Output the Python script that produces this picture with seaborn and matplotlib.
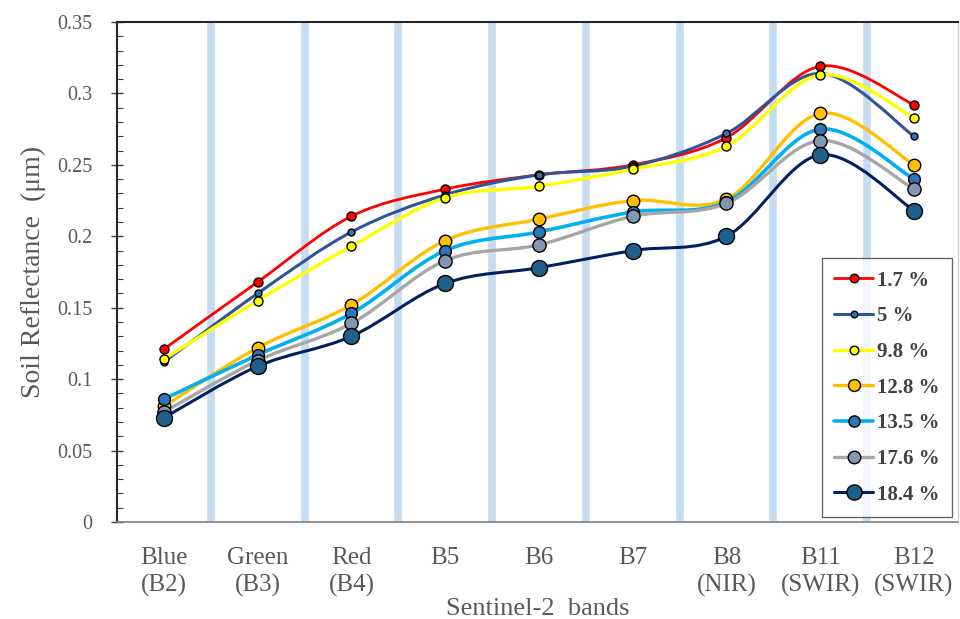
import numpy as np
import pandas as pd
import matplotlib
matplotlib.use("Agg")
import matplotlib.pyplot as plt
from matplotlib.path import Path
from matplotlib.patches import PathPatch
from matplotlib.lines import Line2D
from matplotlib.ticker import MultipleLocator
import seaborn as sns

# ---------------- data ----------------
bands = ["Blue\n(B2)", "Green\n(B3)", "Red\n(B4)", "B5", "B6", "B7",
         "B8\n(NIR)", "B11\n(SWIR)", "B12\n(SWIR)"]
labels = ["1.7 %", "5 %", "9.8 %", "12.8 %", "13.5 %", "17.6 %", "18.4 %"]
ytick_labels = ["0", "0.05", "0.1", "0.15", "0.2", "0.25", "0.3", "0.35"]

s_1_7 = [0.121, 0.168, 0.214, 0.233, 0.243, 0.250, 0.269, 0.319, 0.292]
s_5_0 = [0.112, 0.160, 0.203, 0.229, 0.243, 0.249, 0.272, 0.314, 0.270]
s_9_8 = [0.114, 0.155, 0.193, 0.227, 0.235, 0.247, 0.263, 0.313, 0.283]
s_12_8 = [0.081, 0.122, 0.152, 0.197, 0.212, 0.225, 0.226, 0.286, 0.250]
s_13_5 = [0.086, 0.117, 0.146, 0.190, 0.203, 0.217, 0.224, 0.275, 0.240]
s_17_6 = [0.077, 0.113, 0.139, 0.183, 0.194, 0.214, 0.223, 0.267, 0.233]
s_18_4 = [0.073, 0.109, 0.130, 0.167, 0.178, 0.190, 0.200, 0.257, 0.218]
series = [s_1_7, s_5_0, s_9_8, s_12_8, s_13_5, s_17_6, s_18_4]

line_colors = ["#ff0000", "#2f5597", "#ffff00", "#ffc000", "#00b0f0", "#a6a6a6", "#002060"]
face_colors = ["#ff0000", "#2e75b6", "#ffff00", "#ffc000", "#2e75b6", "#8497b0", "#1f5f8b"]
marker_sizes = [6.5, 5.0, 6.5, 9.0, 8.5, 9.5, 11.5]
line_widths = [2.0, 2.2, 2.4, 2.4, 2.6, 2.4, 2.2]

# ---------------- figure ----------------
sns.set_style("white")
plt.rcParams["font.family"] = ["Liberation Serif", "DejaVu Serif"]

fig = plt.figure(figsize=(9.6, 6.19), dpi=100)
ax = fig.add_axes([0.1219, 0.1567, 0.8761, 0.8078])

x = np.arange(len(bands))

# light blue separators between bands
for xb in x[:-1] + 0.5:
    ax.axvline(xb, color="#c6dcf0", lw=5.5, zorder=0)


def smooth_path(xs, ys):
    """Excel-like smoothed line: cubic Bezier through the data points."""
    pts = np.column_stack([xs, ys]).astype(float)
    n = len(pts)
    verts = [pts[0]]
    codes = [Path.MOVETO]
    for i in range(n - 1):
        p0 = pts[max(i - 1, 0)]
        p1 = pts[i]
        p2 = pts[i + 1]
        p3 = pts[min(i + 2, n - 1)]
        c1 = p1 + (p2 - p0) / 6.0
        c2 = p2 - (p3 - p1) / 6.0
        verts += [c1, c2, p2]
        codes += [Path.CURVE4] * 3
    return Path(verts, codes)


rows = []
for lab, vals in zip(labels, series):
    for xi, v in zip(x, vals):
        rows.append({"band": xi, "value": v, "series": lab})
df = pd.DataFrame(rows)

for k, (lab, vals) in enumerate(zip(labels, series)):
    patch = PathPatch(smooth_path(x, vals), facecolor="none",
                      edgecolor=line_colors[k], lw=line_widths[k],
                      zorder=2 + k * 0.1, capstyle="round", joinstyle="round")
    ax.add_patch(patch)

for k, lab in enumerate(labels):
    sub = df[df["series"] == lab]
    sns.lineplot(data=sub, x="band", y="value", ax=ax, linestyle="",
                 marker="o", markersize=marker_sizes[k],
                 markerfacecolor=face_colors[k], markeredgecolor="black",
                 markeredgewidth=1.0, color=line_colors[k], zorder=5 + k * 0.1,
                 legend=False)

ax.set_xlim(-0.5, 8.47)
ax.set_ylim(0, 0.35)
ax.set_xticks(x)
ax.set_xticklabels(bands, fontsize=18, color="#595959", linespacing=1.25)
ax.yaxis.set_minor_locator(MultipleLocator(0.01))
ax.set_yticks(np.arange(0, 0.351, 0.05))
ax.set_yticklabels(ytick_labels, fontsize=14.5, color="#595959")
ax.tick_params(axis="y", which="major", direction="inout", length=8, width=1.0,
               color="#404040", pad=14, left=True)
ax.tick_params(axis="y", which="minor", direction="in", length=4, width=0.8,
               color="#404040", left=True)
ax.tick_params(axis="x", which="major", length=0, pad=18)

ax.set_xlabel("Sentinel-2  bands", fontsize=19, color="#595959")
ax.xaxis.set_label_coords(0.5, -0.152)
ax.set_ylabel("Soil Reflectance  (μm)", fontsize=20, color="#595959", labelpad=8)

for side in ["left", "top"]:
    ax.spines[side].set_color("#262626")
    ax.spines[side].set_linewidth(1.5)
ax.spines["bottom"].set_color("#7f7f7f")
ax.spines["bottom"].set_linewidth(1.2)
ax.spines["right"].set_color("#d0d0d0")
ax.spines["right"].set_linewidth(1.0)

handles = [Line2D([0], [0], color=line_colors[k], lw=line_widths[k], marker="o",
                  markersize=marker_sizes[k] * 0.95, markerfacecolor=face_colors[k],
                  markeredgecolor="black", markeredgewidth=1.0)
           for k in range(len(labels))]
leg = ax.legend(handles, labels, loc="lower right", bbox_to_anchor=(0.993, 0.01),
                frameon=True, fancybox=False, edgecolor="#404040",
                prop={"family": "Liberation Serif", "weight": "bold", "size": 15},
                labelspacing=0.75, handlelength=1.85, handletextpad=0.2,
                borderpad=0.6, borderaxespad=0)
leg.get_frame().set_linewidth(1.0)
for t in leg.get_texts():
    t.set_color("#404040")

fig.savefig("out.png", dpi=100)
